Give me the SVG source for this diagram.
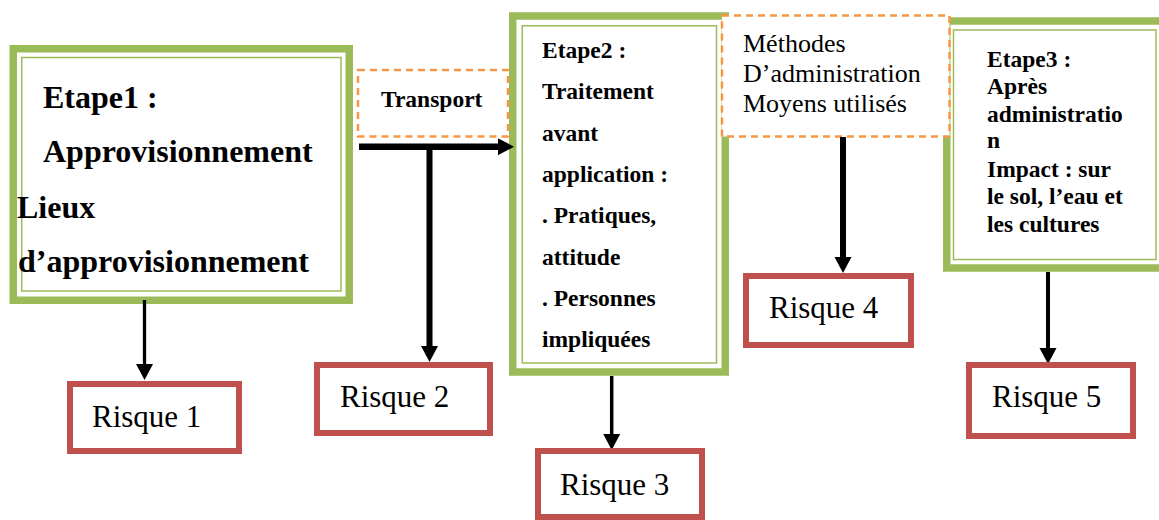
<svg xmlns="http://www.w3.org/2000/svg" width="1159" height="520" viewBox="0 0 1159 520">
<defs>
<style>
.thick{fill:#fff;stroke:#9BBB59;stroke-width:7.5}
.thin{fill:none;stroke:#9BBB59;stroke-width:1.5}
.dash{fill:#fff;stroke:#F79646;stroke-width:2.5;stroke-dasharray:7 5}
.risk{fill:#fff;stroke:#C0504D;stroke-width:6}
.b{font-family:"Liberation Serif","Times New Roman",serif;font-weight:bold;fill:#000}
.r{font-family:"Liberation Serif","Times New Roman",serif;fill:#000}
.c{stroke:#000;fill:none;marker-end:url(#ah)}
</style>
<marker id="ah" markerUnits="userSpaceOnUse" markerWidth="17" markerHeight="18" refX="0" refY="8.5" orient="auto" viewBox="0 0 17 17">
<path d="M0,0 L16,8.5 L0,17 z" fill="#000"/>
</marker>
</defs>
<g id="etape1">
<rect class="thick" x="13.25" y="48.75" width="336" height="251.5"/>
<rect class="thin" x="21.7" y="57.5" width="319.3" height="233.5"/>
<g class="b" font-size="32">
<text x="43" y="108">Etape1 :</text>
<text x="43" y="162">Approvisionnement</text>
<text x="17" y="218">Lieux</text>
<text x="18" y="272">d’approvisionnement</text>
</g>
</g>
<g id="etape2">
<rect class="thick" x="512.75" y="16" width="212.5" height="356"/>
<rect class="thin" x="522.3" y="25.8" width="194.2" height="337.2"/>
<g class="b" font-size="23.5">
<text x="542" y="58">Etape2 :</text>
<text x="542" y="99">Traitement</text>
<text x="542" y="141">avant</text>
<text x="542" y="182">application :</text>
<text x="542" y="223">. Pratiques,</text>
<text x="542" y="265">attitude</text>
<text x="542" y="306">. Personnes</text>
<text x="542" y="347">impliquées</text>
</g>
</g>
<g id="etape3">
<rect class="thick" x="946.75" y="21" width="222" height="247"/>
<rect class="thin" x="953.5" y="30" width="202.5" height="229.5"/>
<g class="b" font-size="23.5">
<text x="987" y="67">Etape3 :</text>
<text x="987" y="94">Après</text>
<text x="987" y="122">administratio</text>
<text x="987" y="148">n</text>
<text x="987" y="177">Impact : sur</text>
<text x="987" y="204">le sol, l’eau et</text>
<text x="987" y="232">les cultures</text>
</g>
</g>
<g id="transport">
<rect class="dash" x="358" y="70" width="150" height="66.5"/>
<text class="b" font-size="23.5" x="381" y="107">Transport</text>
</g>
<g id="methodes">
<rect class="dash" x="722" y="15.5" width="227.5" height="121"/>
<g class="r" font-size="26">
<text x="743" y="52">Méthodes</text>
<text x="743" y="82">D’administration</text>
<text x="743" y="112">Moyens utilisés</text>
</g>
</g>
<g id="connectors">
<path class="c" stroke-width="3.3" d="M144.5,300 V364"/>
<path class="c" stroke-width="6.5" d="M359,146.7 H498"/>
<path class="c" stroke-width="6" d="M429.5,146.7 V346"/>
<path class="c" stroke-width="3.5" d="M611.7,376 V434"/>
<path class="c" stroke-width="6" d="M843,137 V257"/>
<path class="c" stroke-width="4" d="M1048,272 V348"/>
</g>
<g id="risque1">
<rect class="risk" x="70" y="384" width="169" height="67"/>
<text class="r" font-size="31" x="92" y="427">Risque 1</text>
</g>
<g id="risque2">
<rect class="risk" x="317" y="365" width="173" height="68"/>
<text class="r" font-size="31" x="340" y="407">Risque 2</text>
</g>
<g id="risque3">
<rect class="risk" x="538" y="451" width="164" height="66"/>
<text class="r" font-size="31" x="560" y="495">Risque 3</text>
</g>
<g id="risque4">
<rect class="risk" x="746" y="276" width="165" height="69"/>
<text class="r" font-size="31" x="769" y="318">Risque 4</text>
</g>
<g id="risque5">
<rect class="risk" x="969" y="365" width="164" height="71"/>
<text class="r" font-size="31" x="992" y="407">Risque 5</text>
</g>
</svg>
